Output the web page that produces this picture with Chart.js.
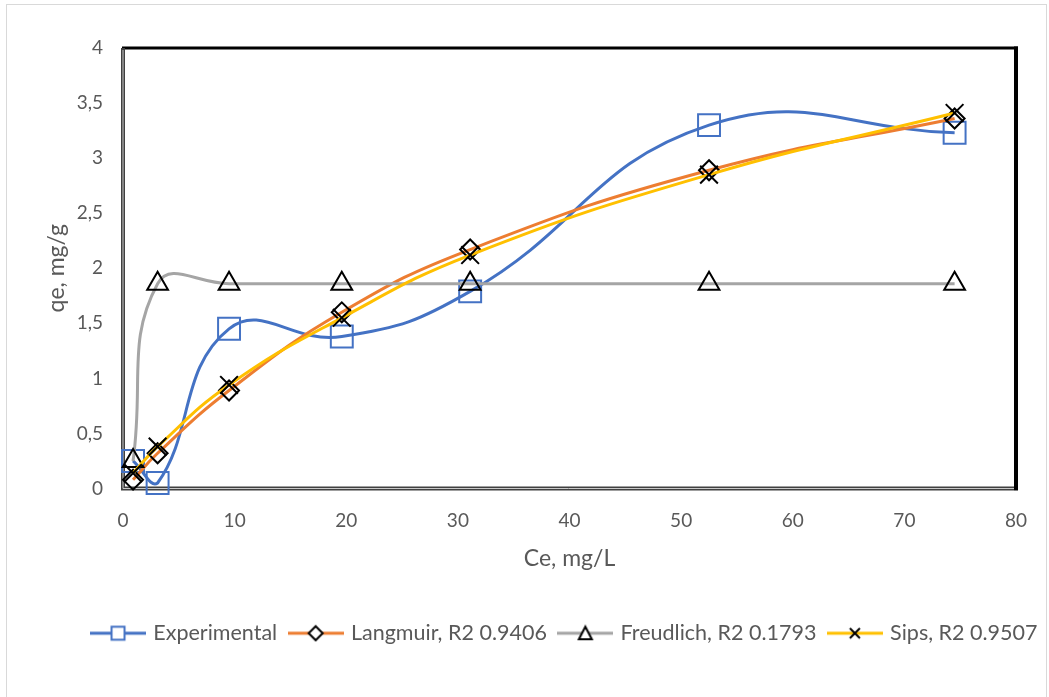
<!DOCTYPE html>
<html>
<head>
<meta charset="utf-8">
<script src="https://cdn.jsdelivr.net/npm/chart.js@4.4.1/dist/chart.umd.min.js"></script>
<style>
  html, body { margin: 0; padding: 0; background: #fff; overflow: hidden; }
  #wrap { width: 1049px; height: 697px; position: relative; }
</style>
</head>
<body>
<div id="wrap"><canvas id="myChart"></canvas></div>
<script>
// valores
var ceValues = [0.9, 3.1, 9.5, 19.6, 31.1, 52.5, 74.5];
var experimental = [0.25, 0.05, 1.45, 1.38, 1.79, 3.30, 3.23];
var langmuir = [0.08, 0.32, 0.89, 1.60, 2.17, 2.89, 3.36];
var freundlich = [0.25, 1.86, 1.86, 1.86, 1.86, 1.86, 1.86];
var sips = [0.14, 0.38, 0.94, 1.55, 2.12, 2.85, 3.41];
var seriesLabels = ["Experimental", "Langmuir, R2 0.9406", "Freudlich, R2 0.1793", "Sips, R2 0.9507"];

var textColor = "#595959";
var fontFamily = "Lato, 'Open Sans', sans-serif";

function toPoints(ys) {
  return ceValues.map(function (x, i) { return { x: x, y: ys[i] }; });
}

// desenha o símbolo da legenda: linha + marcador
function legendSymbol(color, marker, markerColor) {
  var c = document.createElement("canvas");
  c.width = 56;
  c.height = 18;
  var ctx = c.getContext("2d");
  ctx.strokeStyle = color;
  ctx.lineWidth = 3;
  ctx.beginPath();
  ctx.moveTo(0, 9);
  ctx.lineTo(56, 9);
  ctx.stroke();
  ctx.strokeStyle = markerColor;
  ctx.fillStyle = "#fff";
  ctx.lineWidth = 2;
  ctx.beginPath();
  if (marker === "rect") {
    ctx.rect(21.5, 2.5, 13, 13);
    ctx.fill();
  } else if (marker === "diamond") {
    ctx.moveTo(28, 2);
    ctx.lineTo(35, 9);
    ctx.lineTo(28, 16);
    ctx.lineTo(21, 9);
    ctx.closePath();
    ctx.fill();
  } else if (marker === "triangle") {
    ctx.moveTo(28, 2.5);
    ctx.lineTo(34.5, 15);
    ctx.lineTo(21.5, 15);
    ctx.closePath();
    ctx.fill();
  } else {
    ctx.moveTo(23, 4);
    ctx.lineTo(33, 14);
    ctx.moveTo(33, 4);
    ctx.lineTo(23, 14);
  }
  ctx.stroke();
  return c;
}

var symbols = [
  legendSymbol("#4472C4", "rect", "#4472C4"),
  legendSymbol("#ED7D31", "diamond", "#000"),
  legendSymbol("#A5A5A5", "triangle", "#000"),
  legendSymbol("#FFC000", "cross", "#000")
];

// moldura da área do gráfico
var framePlugin = {
  id: "frame",
  beforeDraw: function (chart) {
    var ctx = chart.ctx;
    ctx.save();
    ctx.strokeStyle = "#d9d9d9";
    ctx.lineWidth = 1;
    ctx.strokeRect(6.5, 4.5, 1040, 720);
    ctx.restore();
  },
  beforeDatasetsDraw: function (chart) {
    var a = chart.chartArea;
    var ctx = chart.ctx;
    ctx.save();
    ctx.strokeStyle = "#000";
    ctx.lineWidth = 3;
    ctx.beginPath();
    ctx.moveTo(a.left - 1, a.top);
    ctx.lineTo(a.right + 2, a.top);
    ctx.stroke();
    ctx.lineWidth = 4;
    ctx.beginPath();
    ctx.moveTo(a.right, a.top - 1.5);
    ctx.lineTo(a.right, a.bottom + 2);
    ctx.stroke();
    // eixos esquerdo e inferior (linha dupla)
    ctx.strokeStyle = "#404040";
    ctx.lineWidth = 4;
    ctx.beginPath();
    ctx.moveTo(a.left, a.top);
    ctx.lineTo(a.left, a.bottom);
    ctx.lineTo(a.right - 2, a.bottom);
    ctx.stroke();
    ctx.strokeStyle = "#c8c8c8";
    ctx.lineWidth = 1;
    ctx.beginPath();
    ctx.moveTo(a.left, a.top + 2);
    ctx.lineTo(a.left, a.bottom);
    ctx.lineTo(a.right - 2, a.bottom);
    ctx.stroke();
    ctx.restore();
  }
};

var canvas = document.getElementById("myChart");
var data = {
  datasets: [
    {
      label: seriesLabels[0],
      data: toPoints(experimental),
      borderColor: "#4472C4",
      borderWidth: 3,
      pointStyle: "rect",
      pointRadius: 15.5,
      pointBorderColor: "#4472C4",
      pointBorderWidth: 2,
      pointBackgroundColor: "rgba(0,0,0,0)",
      order: 4,
    },
    {
      label: seriesLabels[1],
      data: toPoints(langmuir),
      borderColor: "#ED7D31",
      borderWidth: 3,
      pointStyle: "rectRot",
      pointRadius: 10,
      pointBorderColor: "#000",
      pointBorderWidth: 2,
      pointBackgroundColor: "rgba(0,0,0,0)",
      order: 3,
    },
    {
      label: seriesLabels[2],
      data: toPoints(freundlich),
      borderColor: "#A5A5A5",
      borderWidth: 3,
      pointStyle: "triangle",
      pointRadius: 12,
      pointBorderColor: "#000",
      pointBorderWidth: 2,
      pointBackgroundColor: "rgba(0,0,0,0)",
      order: 2,
    },
    {
      label: seriesLabels[3],
      data: toPoints(sips),
      borderColor: "#FFC000",
      borderWidth: 3,
      pointStyle: "crossRot",
      pointRadius: 12.5,
      pointBorderColor: "#000",
      pointBorderWidth: 2,
      pointBackgroundColor: "rgba(0,0,0,0)",
      order: 1,
    },
  ],
};

var myLineChart = new Chart(canvas, {
  type: "line",
  data: data,
  plugins: [framePlugin],
  options: {
    responsive: true,
    maintainAspectRatio: false,
    animation: false,
    clip: false,
    elements: {
      line: { tension: 0.45, fill: false },
    },
    layout: { padding: { left: 70, top: 48, right: -12, bottom: 43 } },
    plugins: {
      tooltip: { enabled: false },
      legend: {
        position: "bottom",
        labels: {
          usePointStyle: true,
          pointStyleWidth: 49,
          boxHeight: 18,
          padding: 14,
          color: textColor,
          font: { family: fontFamily, size: 21.5 },
          sort: function (a, b) { return a.datasetIndex - b.datasetIndex; },
          generateLabels: function (chart) {
            return chart.data.datasets.map(function (ds, i) {
              return {
                text: ds.label,
                pointStyle: symbols[i],
                fillStyle: ds.borderColor,
                strokeStyle: ds.borderColor,
                lineWidth: 0,
                fontColor: textColor,
                hidden: false,
                datasetIndex: i,
              };
            });
          },
        },
      },
    },
    scales: {
      x: {
        type: "linear",
        min: 0,
        max: 80,
        grid: { display: false, drawTicks: false },
        border: { display: false },
        ticks: {
          stepSize: 10,
          padding: 21,
          color: textColor,
          font: { family: fontFamily, size: 19 },
        },
        title: {
          display: true,
          text: "Ce, mg/L",
          color: textColor,
          font: { family: fontFamily, size: 23 },
          padding: { top: 0, bottom: 36 },
        },
        afterFit: function (scale) { scale.height = 120; },
      },
      y: {
        min: 0,
        max: 4,
        grid: { display: false, drawTicks: false },
        border: { display: false },
        ticks: {
          stepSize: 0.5,
          padding: 20,
          color: textColor,
          font: { family: fontFamily, size: 19 },
          callback: function (v) { return String(v).replace(".", ","); },
        },
        title: {
          display: true,
          text: "qe, mg/g",
          color: textColor,
          font: { family: fontFamily, size: 23 },
          padding: { top: -27, bottom: 0 },
        },
        afterFit: function (scale) { scale.width = 53; },
      },
      // eixo vazio à direita só para reservar espaço
      yRight: {
        position: "right",
        display: true,
        grid: { display: false, drawTicks: false },
        border: { display: false },
        ticks: { display: false },
        afterFit: function (scale) { scale.width = 45; },
      },
    },
  },
});
</script>
</body>
</html>
